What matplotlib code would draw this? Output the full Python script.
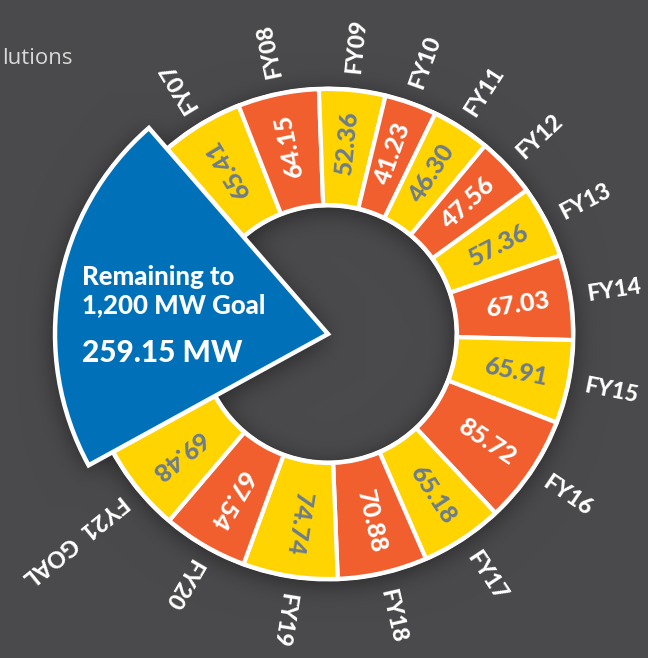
import numpy as np
import matplotlib
matplotlib.use("Agg")
import matplotlib.pyplot as plt
from matplotlib.patches import Wedge

# ---- data ----
years = ["FY07", "FY08", "FY09", "FY10", "FY11", "FY12", "FY13", "FY14",
         "FY15", "FY16", "FY17", "FY18", "FY19", "FY20", "FY21  GOAL"]
values = [65.41, 64.15, 52.36, 41.23, 46.30, 47.56, 57.36, 67.03,
          65.91, 85.72, 65.18, 70.88, 74.74, 67.54, 69.48]
goal_total = 1200.0
remaining = 259.15
remaining_text = ["Remaining to", "1,200 MW Goal"]
remaining_label = "259.15 MW"
corner_text = "lutions"

# ---- style ----
W, H, DPI = 648, 658, 100
cx, cy = 328.0, 334.0
r_in, r_out, r_blue = 129.0, 245.0, 273.0
start_angle = 131.0
yellow, orange, blue = "#FFD400", "#F15F2F", "#0071B9"
gray_txt = "#6B7C8E"
base_bg = np.array([0x4a, 0x4a, 0x4c]) / 255.0
BOLD = "black"

deg_per = 360.0 / goal_total

fig = plt.figure(figsize=(W / DPI, H / DPI), dpi=DPI)
ax = fig.add_axes([0, 0, 1, 1])
ax.set_xlim(-cx, W - cx)
ax.set_ylim(-(H - cy), cy)
ax.set_aspect("equal")
ax.axis("off")

def px(x, y):
    return x - cx, cy - y

# ---- background with soft shadow ----
yy, xx = np.mgrid[0:H, 0:W] + 0.5
dx = xx - cx
dy = cy - (yy - 4)
rr = np.hypot(dx, dy)
ang = np.degrees(np.arctan2(dy, dx)) % 360
blue_end = start_angle + remaining * deg_per
in_blue = (ang >= start_angle) & (ang <= blue_end)
mask = (((rr >= r_in) & (rr <= r_out) & ~in_blue) | ((rr <= r_blue) & in_blue)).astype(float)

def blur(img, s):
    n = int(3 * s)
    k = np.exp(-0.5 * (np.arange(-n, n + 1) / s) ** 2)
    k /= k.sum()
    img = np.apply_along_axis(lambda m: np.convolve(m, k, mode="same"), 0, img)
    img = np.apply_along_axis(lambda m: np.convolve(m, k, mode="same"), 1, img)
    return img

sh = blur(mask, 13.0)
bg = base_bg[None, None, :] * (1 - 0.5 * sh[:, :, None])
ax.imshow(bg, extent=[-cx, W - cx, -(H - cy), cy], origin="upper", zorder=0,
          interpolation="bilinear")

# ---- ring ----
ax.add_patch(Wedge((0, 0), r_out + 2.5, start_angle - (goal_total - remaining) * deg_per - 1.0,
                   start_angle + 1.0, width=r_out - r_in + 5, facecolor="white",
                   edgecolor="none", zorder=1))
cum = np.concatenate([[0], np.cumsum(values)])
for i, (yr, v) in enumerate(zip(years, values)):
    a_hi = start_angle - cum[i] * deg_per
    a_lo = start_angle - cum[i + 1] * deg_per
    col = yellow if i % 2 == 0 else orange
    ax.add_patch(Wedge((0, 0), r_out, a_lo, a_hi, width=r_out - r_in,
                       facecolor=col, edgecolor="white", linewidth=3.0, zorder=2))
    mid = (a_lo + a_hi) / 2
    t = np.radians(mid)
    rv = 192
    ax.text(rv * np.cos(t), rv * np.sin(t), f"{v:.2f}", rotation=mid,
            rotation_mode="anchor", ha="center", va="center",
            color=gray_txt if i % 2 == 0 else "white",
            fontsize=18, fontweight=BOLD, family="Lato", zorder=4)
    ro = 262
    ax.text(ro * np.cos(t), ro * np.sin(t), yr, rotation=mid,
            rotation_mode="anchor", ha="left", va="center", color="white",
            fontsize=16.5, fontweight=BOLD, family="Lato", zorder=4)

# ---- remaining wedge ----
ax.add_patch(Wedge((0, 0), r_blue, start_angle, blue_end, facecolor=blue,
                   edgecolor="white", linewidth=3.2, joinstyle="miter", zorder=3))
x0, y0 = px(82, 285)
ax.text(x0, y0, remaining_text[0], ha="left", va="baseline", color="white",
        fontsize=18.5, fontweight=BOLD, family="Lato", zorder=5)
x0, y0 = px(82, 313)
ax.text(x0, y0, remaining_text[1], ha="left", va="baseline", color="white",
        fontsize=18.5, fontweight=BOLD, family="Lato", zorder=5)
x0, y0 = px(82, 362)
ax.text(x0, y0, remaining_label, ha="left", va="baseline", color="white",
        fontsize=21.5, fontweight=BOLD, family="Lato", zorder=5)

# ---- corner text ----
x0, y0 = px(2, 64)
ax.text(x0, y0, corner_text, ha="left", va="baseline", color="#D8D8D8",
        fontsize=16, family="Open Sans", zorder=5)

fig.savefig("out.png", dpi=DPI)
